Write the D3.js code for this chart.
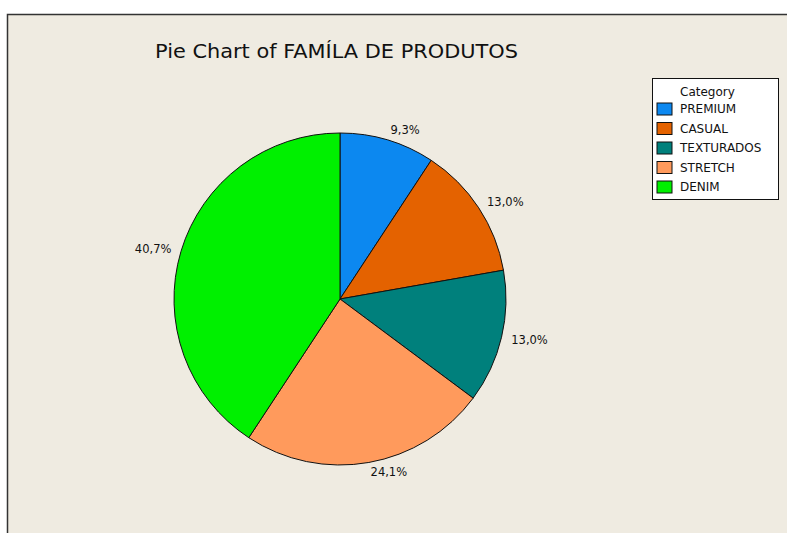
<!DOCTYPE html>
<html>
<head>
<meta charset="utf-8">
<script src="https://d3js.org/d3.v7.min.js"></script>
<style>
  body { margin: 0; background: #ffffff; }
  text { font-family: Tahoma, "DejaVu Sans", sans-serif; fill: #111; }
</style>
</head>
<body>
<svg id="canvas"></svg>
<script>
var width = 787, height = 533;

// data (counts read back from the percentages)
var categories = ["PREMIUM", "CASUAL", "TEXTURADOS", "STRETCH", "DENIM"];
var counts = [5, 7, 7, 13, 22];
var labels = ["9,3%", "13,0%", "13,0%", "24,1%", "40,7%"];
var colors = ["#0c88f0", "#e46200", "#00807c", "#ff9a5c", "#00f000"];

var svg = d3.select("#canvas")
    .attr("width", width)
    .attr("height", height);

// frame
svg.append("rect")
    .attr("x", 7.5).attr("y", 14.5)
    .attr("width", 800).attr("height", 540)
    .attr("fill", "#efebe1")
    .attr("stroke", "#333").attr("stroke-width", 1.5);

svg.append("text")
    .text("Pie Chart of FAMÍLA DE PRODUTOS")
    .attr("x", 155).attr("y", 58)
    .style("font-size", "20px")
    .attr("textLength", 363)
    .attr("lengthAdjust", "spacingAndGlyphs");

var cx = 340, cy = 299, r = 166;
var g = svg.append("g").attr("transform", "translate(" + cx + "," + cy + ")");

var pie = d3.pie().sort(null).value(function(d) { return d; });
var arcs = pie(counts);
var arc = d3.arc().innerRadius(0).outerRadius(r);
var labelArc = d3.arc().innerRadius(r + 10).outerRadius(r + 10);

g.selectAll("path.slice")
  .data(arcs)
  .enter().append("path")
    .attr("class", "slice")
    .attr("d", arc)
    .attr("fill", function(d, i) { return colors[i]; })
    .attr("stroke", "#111")
    .attr("stroke-width", 1);

g.selectAll("text.lbl")
  .data(arcs)
  .enter().append("text")
    .attr("class", "lbl")
    .attr("transform", function(d) { return "translate(" + labelArc.centroid(d) + ")"; })
    .attr("dy", "0.35em")
    .attr("text-anchor", function(d) {
      var mid = (d.startAngle + d.endAngle) / 2;
      return mid > Math.PI ? "end" : "start";
    })
    .style("font-size", "11.5px")
    .text(function(d, i) { return labels[i]; });

// legend
var legend = svg.append("g").attr("transform", "translate(652,78)");
legend.append("rect")
    .attr("x", 0.5).attr("y", 0.5)
    .attr("width", 126).attr("height", 121)
    .attr("fill", "#fff")
    .attr("stroke", "#111");
legend.append("text")
    .text("Category")
    .attr("x", 28).attr("y", 18)
    .style("font-size", "12px");

var rows = legend.selectAll("g.row")
  .data(categories)
  .enter().append("g")
    .attr("class", "row")
    .attr("transform", function(d, i) { return "translate(5," + (25 + i * 19.5) + ")"; });
rows.append("rect")
    .attr("width", 15).attr("height", 12)
    .attr("fill", function(d, i) { return colors[i]; })
    .attr("stroke", "#111");
rows.append("text")
    .attr("x", 23).attr("y", 6).attr("dy", "0.35em")
    .style("font-size", "12px")
    .text(function(d) { return d; });
</script>
</body>
</html>
